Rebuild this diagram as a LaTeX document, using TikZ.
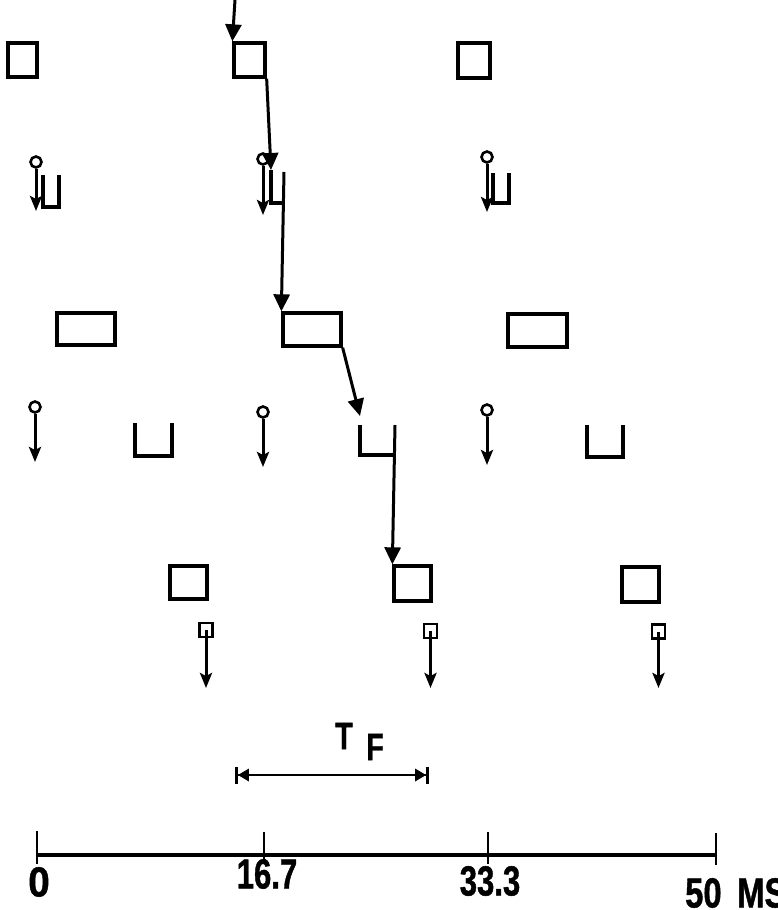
\documentclass[tikz,border=0pt]{standalone}
\usepackage{graphicx}
\usepackage{fontspec}
\setmainfont{Liberation Sans}
\newfontfamily\heavyfont[FakeBold=1.2]{Liberation Sans}
\usetikzlibrary{arrows.meta}
\begin{document}
\begin{tikzpicture}[x=1pt,y=-1pt,
  box/.style={draw,line width=3.3pt,inner sep=0pt},
  ring/.style={draw,circle,line width=2.6pt,minimum size=11pt,inner sep=0pt},
  tinybox/.style={draw,line width=2.8pt,inner sep=0pt,minimum width=13pt,minimum height=14pt},
  uline/.style={line width=3.1pt},
  sarrow/.style={line width=3pt,-{Stealth[length=15pt,width=12pt,inset=3pt]}},
  barrow/.style={line width=3pt,-{Triangle[length=17pt,width=16pt]}},
  axisline/.style={line width=3.2pt},
  tickline/.style={line width=2.6pt},
  lab/.style={font=\heavyfont\bfseries\fontsize{42}{42}\selectfont,inner sep=0pt},
  tflab/.style={font=\heavyfont\bfseries\fontsize{38}{38}\selectfont,inner sep=0pt}
]
\useasboundingbox (0,0) rectangle (778,910);

% ---- row 1 : squares
\node[box,minimum width=29pt,minimum height=34pt] (s1a) at (22.5,60) {};
\node[box,minimum width=31pt,minimum height=34pt] (s1b) at (249.5,60) {};
\node[box,minimum width=32pt,minimum height=35pt] (s1c) at (474,60.5) {};
\coordinate (top) at (235,0);
\draw[barrow] (top) -- (s1b.north west);

% ---- row 2 : circles with arrows and small U shapes
\node[ring] (c2a) at (36,162) {};
\coordinate (e2a) at (36,211);
\draw[sarrow] (c2a.south) -- (e2a);
\coordinate (u2aL) at (43,175); \coordinate (u2aR) at (59,207);
\draw[uline] (u2aL) |- (u2aR) -- (u2aR |- u2aL);

\node[ring] (c2b) at (263,159) {};
\coordinate (e2b) at (263,215);
\draw[sarrow] (c2b.south) -- (e2b);
\coordinate (u2bL) at (271,170); \coordinate (u2bB) at (284,203); \coordinate (u2bR) at (284,172);
\draw[uline] (u2bL) |- (u2bB);

\node[ring] (c2c) at (487,157) {};
\coordinate (e2c) at (487,212);
\draw[sarrow] (c2c.south) -- (e2c);
\coordinate (u2cL) at (493,173); \coordinate (u2cR) at (509,203);
\draw[uline] (u2cL) |- (u2cR) -- (u2cR |- u2cL);

\draw[barrow] (s1b.south east) -- (u2bL);

% ---- row 3 : rectangles
\node[box,minimum width=58pt,minimum height=32pt] (r3a) at (86,329) {};
\node[box,minimum width=58pt,minimum height=33pt] (r3b) at (312,329.5) {};
\node[box,minimum width=59pt,minimum height=33pt] (r3c) at (537.5,330.5) {};
\draw[barrow] (u2bR) -- (r3b.north west);
\coordinate (t4) at (360,416);
\draw[barrow] (r3b.south east) -- (t4);

% ---- row 4 : circles with arrows and U shapes
\node[ring] (c4a) at (35,407) {};
\coordinate (e4a) at (35,462);
\draw[sarrow] (c4a.south) -- (e4a);
\coordinate (u4aL) at (135,423); \coordinate (u4aR) at (172,456);
\draw[uline] (u4aL) |- (u4aR) -- (u4aR |- u4aL);

\node[ring] (c4b) at (263,412) {};
\coordinate (e4b) at (263,467);
\draw[sarrow] (c4b.south) -- (e4b);
\coordinate (u4bL) at (360,425); \coordinate (u4bB) at (395,455); \coordinate (u4bR) at (395,425);
\draw[uline] (u4bL) |- (u4bB);

\node[ring] (c4c) at (487,410) {};
\coordinate (e4c) at (487,465);
\draw[sarrow] (c4c.south) -- (e4c);
\coordinate (u4cL) at (587,425); \coordinate (u4cR) at (623,457);
\draw[uline] (u4cL) |- (u4cR) -- (u4cR |- u4cL);

% ---- row 5 : squares
\node[box,minimum width=37pt,minimum height=33pt] (q5a) at (188.5,582.5) {};
\node[box,minimum width=37pt,minimum height=35pt] (q5b) at (412.5,583.5) {};
\node[box,minimum width=37pt,minimum height=35pt] (q5c) at (640.5,584.5) {};
\draw[barrow] (u4bR) -- (q5b.north west);

% ---- row 6 : tiny squares with arrows
\node[tinybox] (p6a) at (206,630) {};
\node[tinybox] (p6b) at (430.5,631) {};
\node[tinybox] (p6c) at (658.5,631.5) {};
\coordinate (e6a) at (206,688);
\coordinate (e6b) at (430.5,688);
\coordinate (e6c) at (658.5,688);
\draw[sarrow] (p6a.center) -- (e6a);
\draw[sarrow] (p6b.center) -- (e6b);
\draw[sarrow] (p6c.center) -- (e6c);

% ---- T_F interval
\node[tflab] (T) at (344,736) {\scalebox{0.75}[1]{T}};
\node[tflab] (F) at (375,747) {\scalebox{0.75}[1]{F}};
\coordinate (tfL) at (235,775);
\coordinate (tfR) at (429,775);
\draw[line width=2.8pt,{Bar[width=17pt]Triangle[length=11pt,width=12pt]}-{Triangle[length=11pt,width=12pt]Bar[width=17pt]}] (tfL) -- (tfR);

% ---- time axis
\coordinate (a0) at (37,855);
\coordinate (a1) at (264,855);
\coordinate (a2) at (488,855);
\coordinate (a3) at (716,855);
\draw[axisline] (a0) -- (a3);
\draw[tickline] (a0) ++(0,-24) -- ++(0,33);
\draw[tickline] (a1) ++(0,-23) -- ++(0,32);
\draw[tickline] (a2) ++(0,-23) -- ++(0,32);
\draw[tickline] (a3) ++(0,-22) -- ++(0,32);
\node[lab] (L0) at (39,882) {\scalebox{0.92}[1]{0}};
\node[lab] (L1) at (267,874) {\scalebox{0.74}[1]{16.7}};
\node[lab] (L2) at (490,881) {\scalebox{0.74}[1]{33.3}};
\node[lab,anchor=west] (L3) at (685,893) {\scalebox{0.78}[1]{50\hspace{20pt}MS}};
\end{tikzpicture}
\end{document}
